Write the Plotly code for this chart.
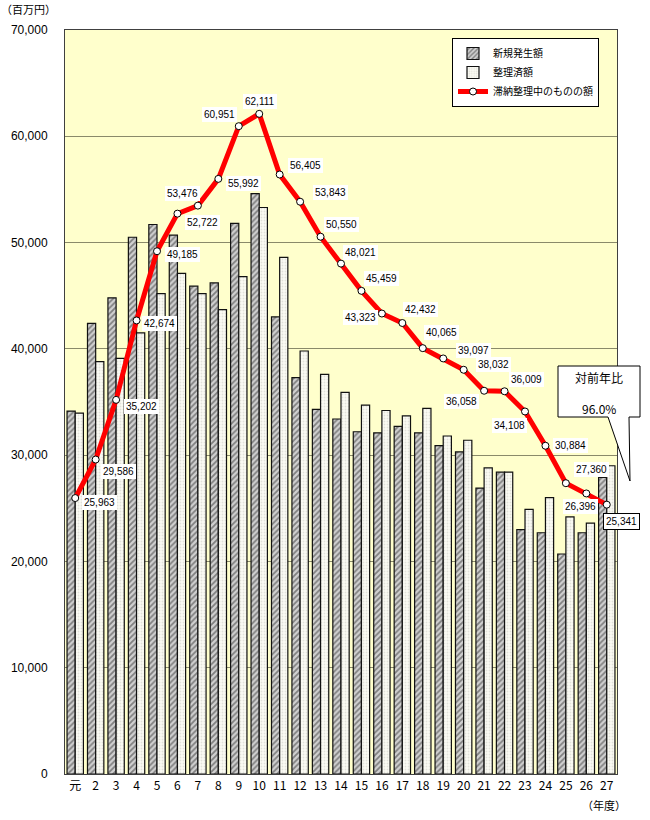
import plotly.graph_objects as go

years = ["元", "2", "3", "4", "5", "6", "7", "8", "9", "10", "11", "12", "13", "14",
         "15", "16", "17", "18", "19", "20", "21", "22", "23", "24", "25", "26", "27"]
new_amount = [34150, 42400, 44800, 50500, 51700, 50700, 45900, 46200, 51800, 54600, 43000,
              37300, 34300, 33400, 32200, 32100, 32700, 32100, 30900, 30300, 26900, 28400,
              23000, 22700, 20700, 22700, 27900]
settled = [33960, 38800, 39100, 41500, 45200, 47100, 45200, 43700, 46800, 53300, 48600,
           39800, 37600, 35900, 34700, 34200, 33700, 34400, 31800, 31400, 28800, 28400,
           24900, 26000, 24200, 23600, 29000]
pending = [25963, 29586, 35202, 42674, 49185, 52722, 53476, 55992, 60951, 62111, 56405,
           53843, 50550, 48021, 45459, 43323, 42432, 40065, 39097, 38032, 36058, 36009,
           34108, 30884, 27360, 26396, 25341]
# label offsets (pixels) for the data labels of the line
label_dx = [24, 23, 25, 23, 25, 25, -15, 25, -19, 1, 26, 30, 21, 19, 20, -21, 18, 19, 30, 30,
            -23, 22, -16, 25, 26, -6, 15]
label_dy = [-4, -12, -7, -3, -3, -9, 12, -5, 12, 12, 9, 9, 12, 11, 12, -4, 14, 16, 8, 5,
            -11, 12, -14, 0, 14, -13, -17]

L, R, T, B = 65, 33, 30, 46
W, H = 650, 820
PW, PH = W - L - R, H - T - B


def px(x):
    return (x - L) / PW


def py(y):
    return (H - B - y) / PH


fig = go.Figure()
fig.add_trace(go.Bar(
    x=years, y=new_amount, name="新規発生額",
    marker=dict(color="#b8b8b8", line=dict(color="#111111", width=1.2),
                pattern=dict(shape="/", fgcolor="#2e2e2e", bgcolor="#d0d0d0", size=4, solidity=0.45)),
))
fig.add_trace(go.Bar(
    x=years, y=settled, name="整理済額",
    marker=dict(color="#fafaf0", line=dict(color="#111111", width=1.2),
                pattern=dict(shape=".", fgcolor="#c8c8c0", bgcolor="#fbfbf4", size=3, solidity=0.3)),
))
fig.add_trace(go.Scatter(
    x=years, y=pending, name="滞納整理中のものの額", mode="lines+markers",
    line=dict(color="#ff0000", width=5),
    marker=dict(symbol="circle", size=7, color="white", line=dict(color="black", width=1)),
))

for i, v in enumerate(pending):
    last = i == len(years) - 1
    fig.add_annotation(
        x=i, y=v, xref="x", yref="y", text=f"{v:,}", showarrow=False,
        xanchor="center", yanchor="middle",
        xshift=label_dx[i], yshift=label_dy[i],
        font=dict(family="Arial, Liberation Sans", size=10, color="black"),
        bgcolor="white", borderpad=2,
        bordercolor="black" if last else "rgba(0,0,0,0)", borderwidth=1 if last else 0,
    )

# callout
path = (f"M {px(558)} {py(366)} L {px(640)} {py(366)} L {px(640)} {py(417)} "
        f"L {px(629)} {py(417)} L {px(630)} {py(481)} L {px(608)} {py(417)} "
        f"L {px(558)} {py(417)} Z")
fig.add_shape(type="path", path=path, xref="paper", yref="paper",
              fillcolor="white", line=dict(color="black", width=1))


def paper_text(x, y, text, size):
    fig.add_annotation(x=px(x), y=py(y), xref="paper", yref="paper", text=text,
                       xanchor="center", yanchor="middle", showarrow=False,
                       font=dict(family="Noto Sans CJK JP", size=size, color="black"))


paper_text(599, 377, "対前年比", 12)
paper_text(599, 408, "96.0%", 12)
paper_text(28, 9, "（百万円）", 11)
paper_text(604, 805, "（年度）", 11)

fig.update_layout(
    width=W, height=H, margin=dict(l=L, r=R, t=T, b=B),
    paper_bgcolor="white", plot_bgcolor="#ffffcc",
    barmode="group", bargap=0.2, bargroupgap=0.0,
    font=dict(family="Arial, Liberation Sans", size=11, color="black"),
    legend=dict(x=px(452), y=py(38), xanchor="left", yanchor="top",
                bgcolor="white", bordercolor="black", borderwidth=1,
                font=dict(family="Noto Sans CJK JP", size=10), tracegroupgap=2,
                itemwidth=30),
    showlegend=True,
)
fig.update_xaxes(type="category", range=[-0.5, len(years) - 0.5], autorange=False,
                 showline=True, linecolor="#404040", linewidth=1, mirror=True,
                 ticks="", tickfont=dict(family="Noto Sans CJK JP, Arial", size=12),
                 ticklabelstandoff=1, showgrid=False)
fig.update_yaxes(range=[0, 70000], autorange=False, dtick=10000, tickformat=",", showline=True,
                 linecolor="#404040", linewidth=1, mirror=True, ticks="",
                 showgrid=True, gridcolor="#8a8a6a", gridwidth=1,
                 tickfont=dict(family="Arial, Liberation Sans", size=12),
                 ticklabelstandoff=14, zeroline=False)

fig.write_html("out.html")
